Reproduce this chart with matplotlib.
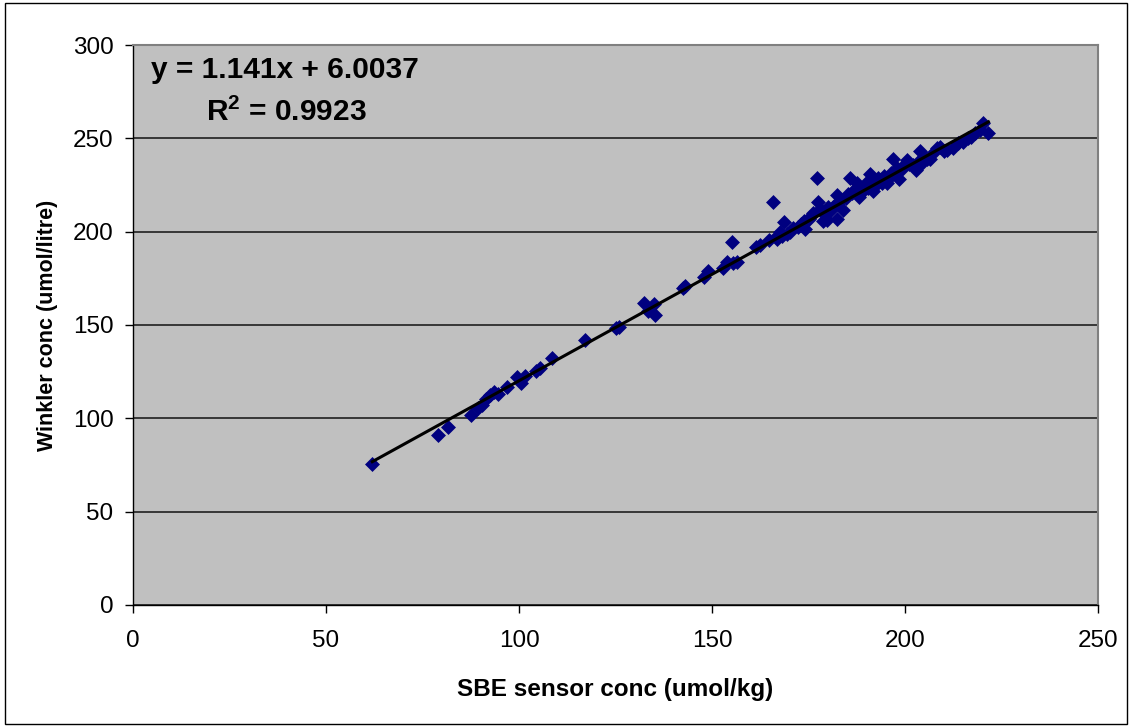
import numpy as np
import matplotlib.pyplot as plt
from matplotlib.patches import Rectangle

plt.rcParams["mathtext.fontset"] = "custom"
plt.rcParams["mathtext.rm"] = "Liberation Sans:bold"
plt.rcParams["mathtext.bf"] = "Liberation Sans:bold"
plt.rcParams["mathtext.it"] = "Liberation Sans:bold"

# SBE sensor conc (umol/kg) vs Winkler conc (umol/litre)
sbe = [62, 79, 81.5, 87.5, 89.5, 90.5, 91.5, 92.5, 93.5, 94.5, 97, 99.5, 100.5, 101.5,
       104.5, 105.5, 108.5, 117, 125, 125.8, 132.5, 133.5, 135, 135.3, 142.5, 143, 148,
       149, 152.8, 154, 155.2, 155.5, 156.5, 161.5, 162.5, 164.8, 165.7, 166.5, 166.8,
       167.5, 168, 168.7, 169.5, 170.2, 171, 172.4, 173, 173.7, 174.2, 175, 175.4, 176.2,
       177.1, 177.5, 178, 178.8, 179.3, 179.8, 180, 180.5, 181.4, 182, 182.3, 182.5, 183,
       184, 184.6, 185.2, 185.8, 186.3, 187, 187.5, 188.2, 188.8, 189.3, 190, 190.5, 190.9,
       191.5, 191.8, 192.5, 193, 193.5, 194, 194.5, 195.2, 195.8, 196.3, 197, 197.5, 197.8,
       198.5, 199, 199.5, 200.4, 201, 202, 202.8, 203.5, 203.9, 204.5, 205, 205.6, 206.5,
       207.2, 208.2, 209, 210, 210.8, 212.5, 213.8, 215, 216.4, 217.2, 218.1, 219.4, 220.3,
       221.6]
winkler = [75.5, 91, 95.5, 101.5, 105.5, 107, 110.5, 112.5, 114, 113, 117, 122, 119, 122.5,
           125.5, 127, 132.5, 142, 148.5, 149, 162, 157.5, 161.5, 155.5, 170, 171, 175.5,
           179, 180.5, 184, 194.5, 183, 183.5, 192, 193, 195.5, 216, 197, 196, 200, 197.5,
           205, 199, 200, 202, 202.7, 204, 205.5, 201.5, 207, 208, 210, 228.6, 216, 212,
           205.5, 209, 206, 213, 211, 213, 215, 219.6, 207, 216, 211.6, 218, 220, 228.6,
           220.5, 223, 226, 218.5, 221.4, 224, 226, 223.5, 231, 227, 222, 225, 229, 227.7,
           226, 230, 226, 229, 231.5, 239, 232, 234, 228, 233, 235, 238.4, 236, 235.7, 233,
           238, 243, 236.6, 240, 239, 239, 242, 244.6, 245.6, 243, 243.8, 245, 247.3, 248,
           250, 251, 252.7, 254.5, 258, 252.7]

slope = 1.141
intercept = 6.0037
r2 = 0.9923

x_ticks = [0, 50, 100, 150, 200, 250]
y_ticks = [0, 50, 100, 150, 200, 250, 300]

FONT = ["Liberation Sans", "DejaVu Sans"]

fig = plt.figure(figsize=(11.32, 7.27), dpi=100)
ax = fig.add_axes([0.1175, 0.168, 0.8525, 0.770])
ax.set_facecolor("#C0C0C0")

ax.scatter(sbe, winkler, marker="D", s=58, color="#000080", linewidths=0, zorder=3)

xs = np.array([min(sbe), max(sbe)])
ax.plot(xs, slope * xs + intercept, color="black", linewidth=2.2, zorder=4)

ax.set_xlim(0, 250)
ax.set_ylim(0, 300)
ax.set_xticks(x_ticks)
ax.set_yticks(y_ticks)
ax.yaxis.grid(True, color="#202020", linewidth=1.2)
ax.set_axisbelow(True)

for s in ["top", "right"]:
    ax.spines[s].set_color("#808080")
    ax.spines[s].set_linewidth(1.5)
for s in ["left", "bottom"]:
    ax.spines[s].set_color("black")
    ax.spines[s].set_linewidth(1)

ax.tick_params(axis="both", direction="out", length=6, width=1, color="black")
ax.tick_params(axis="y", labelsize=17.5, pad=8)
ax.tick_params(axis="x", labelsize=17.5, pad=12)
for lab in ax.get_yticklabels() + ax.get_xticklabels():
    lab.set_family(FONT)

ax.set_xlabel("SBE sensor conc (umol/kg)", fontsize=17.5, fontweight="bold", family=FONT)
ax.xaxis.set_label_coords(0.5, -0.152)
ax.xaxis.label.set_va("center")
ax.set_ylabel("Winkler conc (umol/litre)", fontsize=15.5, fontweight="bold", family=FONT)
ax.yaxis.set_label_coords(-0.0891, 0.5)
ax.yaxis.label.set_va("center")
ax.yaxis.label.set_ha("center")

ax.text(0.1575, 0.955, f"y = {slope}x + {intercept}", transform=ax.transAxes,
        ha="center", va="center", fontsize=21.5, fontweight="bold", family=FONT)
ax.text(0.1585, 0.880, f"R$^2$ = {r2}", transform=ax.transAxes,
        ha="center", va="center", fontsize=21.5, fontweight="bold", family=FONT)

fig.patches.append(Rectangle((0.004, 0.004), 0.992, 0.992, transform=fig.transFigure,
                             fill=False, edgecolor="black", linewidth=1))

fig.savefig("out.png", dpi=100)
